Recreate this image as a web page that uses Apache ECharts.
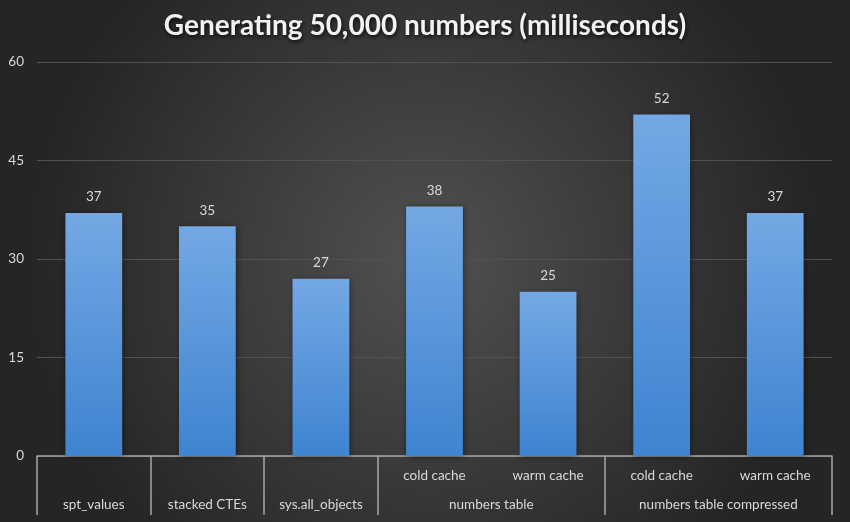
<!DOCTYPE html>
<html><head><meta charset="utf-8">
<script src="https://cdn.jsdelivr.net/npm/echarts@6/dist/echarts.min.js"></script>
<style>html,body{margin:0;padding:0;}#c{width:850px;height:522px;}</style>
</head><body><div id="c"></div>
<script>
const subLabels = ['', '', '', 'cold cache', 'warm cache', 'cold cache', 'warm cache'];
const groupNames = ['spt_values', 'stacked CTEs', 'sys.all_objects', 'numbers table', 'numbers table compressed'];
const groupCenters = [0.5, 1.5, 2.5, 4, 6];
const groupBounds = [0, 1, 2, 3, 5, 7];
const values = [37, 35, 27, 38, 25, 52, 37];
const yTicks = [0, 15, 30, 45, 60];

const font = 'Lato, "Open Sans", sans-serif';
const chart = echarts.init(document.getElementById('c'));
chart.setOption({
  backgroundColor: {type: 'radial', x: 0.5, y: 0.5, r: 0.75,
    colorStops: [{offset: 0, color: '#515151'}, {offset: 1, color: '#252525'}]},
  animation: false,
  title: {text: 'Generating 50,000 numbers (milliseconds)', left: 'center', top: 7,
    textStyle: {color: '#f2f2f2', fontSize: 28, fontWeight: 'bold', fontFamily: font,
      textShadowColor: 'rgba(0,0,0,0.8)', textShadowBlur: 4, textShadowOffsetX: 1, textShadowOffsetY: 2}},
  grid: {left: 37, right: 18, top: 62, bottom: 66},
  xAxis: [
    {type: 'category', data: subLabels.map((s, i) => i), position: 'bottom',
      axisLine: {show: true, lineStyle: {color: '#a6a6a6', width: 1.5}},
      axisTick: {show: false},
      axisLabel: {color: '#d9d9d9', fontSize: 13.5, fontFamily: font, margin: 13,
        formatter: (v, i) => subLabels[i]}},
    {type: 'value', min: 0, max: 7, position: 'bottom',
      axisLine: {show: false}, splitLine: {show: false},
      axisTick: {show: true, customValues: groupBounds, length: 59, inside: false,
        lineStyle: {color: '#a6a6a6', width: 1.5}},
      axisLabel: {show: true, customValues: groupCenters, color: '#d9d9d9', fontSize: 13.5, fontFamily: font, margin: 42,
        formatter: v => { const k = groupCenters.indexOf(v); return k >= 0 ? groupNames[k] : ''; }}}
  ],
  yAxis: {type: 'value', min: 0, max: 60, interval: 15,
    axisLine: {show: false}, axisTick: {show: false},
    axisLabel: {color: '#d9d9d9', fontSize: 13.5, fontFamily: font, margin: 13},
    splitLine: {lineStyle: {color: '#525252', width: 1}}},
  series: [{type: 'bar', data: values, xAxisIndex: 0, barWidth: '50%',
    itemStyle: {color: {type: 'linear', x: 0, y: 0, x2: 0, y2: 1,
      colorStops: [{offset: 0, color: '#74a8e4'}, {offset: 1, color: '#3e84d0'}]},
      shadowColor: 'rgba(0,0,0,0.45)', shadowBlur: 6, shadowOffsetX: 1, shadowOffsetY: 1},
    label: {show: true, position: 'top', distance: 9, color: '#d9d9d9', fontSize: 13.5, fontFamily: font}}]
});
</script></body></html>
